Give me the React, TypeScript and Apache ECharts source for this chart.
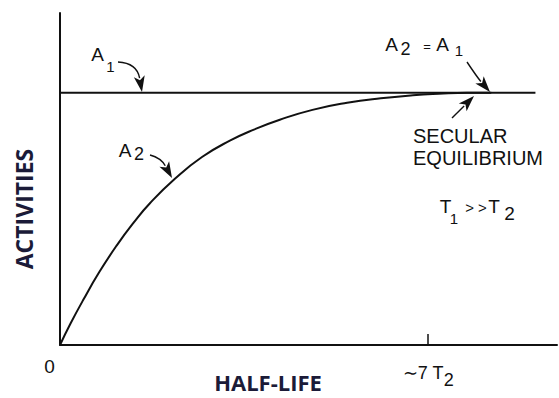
import React, { useEffect, useRef } from "react";
import * as echarts from "echarts";

// Time in units of the daughter half-life T2, activity in units of A1.
const halfLives = [0, 0.2, 0.44, 0.75, 1.08, 1.4, 1.71, 2.19, 2.7, 3.23, 3.7, 4.18, 4.8, 5.46, 6.1, 6.71, 7.2, 7.74, 8.2];
const daughterActivity = [0, 0.085, 0.178, 0.29, 0.395, 0.485, 0.562, 0.66, 0.745, 0.81, 0.855, 0.893, 0.932, 0.96, 0.978, 0.99, 0.996, 1.0, 1.0];
const parentSpan = [0, 9.04];
const parentActivity = [1, 1];
const xTicks = [0, 7];

const INK = "#111";
const SANS = "'Liberation Sans', Arial, sans-serif";

type Pt = [number, number];

// Curved leader with a filled wedge head pointing at `tip`.
function arrow(tail: Pt, ctrl: Pt, tip: Pt) {
  const dx = tip[0] - ctrl[0];
  const dy = tip[1] - ctrl[1];
  const len = Math.hypot(dx, dy);
  const ux = dx / len;
  const uy = dy / len;
  const headLen = 16;
  const half = 5.5;
  const bx = tip[0] - ux * headLen;
  const by = tip[1] - uy * headLen;
  return [
    {
      type: "bezierCurve",
      shape: { x1: tail[0], y1: tail[1], cpx1: ctrl[0], cpy1: ctrl[1], x2: bx + ux * 2, y2: by + uy * 2 },
      style: { stroke: INK, lineWidth: 1.4, fill: "none" },
    },
    {
      type: "polygon",
      shape: {
        points: [
          [tip[0], tip[1]],
          [bx - uy * half, by + ux * half],
          [bx + ux * 4, by + uy * 4],
          [bx + uy * half, by - ux * half],
        ],
      },
      style: { fill: INK },
    },
  ];
}

function txt(text: string, x: number, y: number, size: number, align = "center") {
  return {
    type: "text",
    x,
    y,
    style: {
      text,
      fill: INK,
      font: `${size}px ${SANS}`,
      align,
      verticalAlign: "middle",
    },
  };
}

export default function App() {
  const ref = useRef<HTMLDivElement>(null);

  useEffect(() => {
    if (!ref.current) return;
    const chart = echarts.init(ref.current, undefined, { renderer: "svg" });

    const curve = halfLives.map((t, i) => [t, daughterActivity[i]]);
    const flat = parentSpan.map((t, i) => [t, parentActivity[i]]);

    chart.setOption({
      animation: false,
      backgroundColor: "#fff",
      grid: { left: 60, top: 13, right: 2, bottom: 53 },
      xAxis: {
        type: "value",
        min: 0,
        max: 9.45,
        interval: 7,
        splitLine: { show: false },
        axisLine: { lineStyle: { color: INK, width: 2 } },
        axisTick: { show: true, length: 11, inside: true, lineStyle: { color: INK, width: 1.5 } },
        axisLabel: {
          margin: 12,
          showMaxLabel: false,
          formatter: (v: number) => (v === xTicks[0] ? "{z|0}" : v === xTicks[1] ? "{m|∼7 T}{s|2}" : ""),
          rich: {
            z: { fontSize: 19, fontFamily: SANS, color: INK, padding: [0, 21, 0, 0] },
            m: { fontSize: 18, fontFamily: SANS, color: INK },
            s: { fontSize: 18, fontFamily: SANS, color: INK, padding: [14, 0, 0, 0] },
          },
        },
      },
      yAxis: {
        type: "value",
        min: 0,
        max: 1.316,
        splitLine: { show: false },
        axisLine: { show: true, lineStyle: { color: INK, width: 2 } },
        axisTick: { show: false },
        axisLabel: { show: false },
      },
      series: [
        {
          name: "A1",
          type: "line",
          data: flat,
          showSymbol: false,
          lineStyle: { color: INK, width: 2 },
        },
        {
          name: "A2",
          type: "line",
          data: curve,
          smooth: true,
          showSymbol: false,
          lineStyle: { color: INK, width: 2 },
        },
      ],
      graphic: [
        // axis titles
        {
          type: "text",
          x: 24,
          y: 209,
          rotation: Math.PI / 2,
          style: {
            text: "ACTIVITIES",
            fill: "#1b1b38",
            font: "bold 23px 'Open Sans', sans-serif",
            align: "center",
            verticalAlign: "middle",
          },
        },
        {
          type: "text",
          x: 268,
          y: 382,
          style: {
            text: "HALF-LIFE",
            fill: "#1b1b38",
            font: "bold 22px 'Open Sans', sans-serif",
            align: "center",
            verticalAlign: "middle",
          },
        },
        // A1 label
        txt("A", 97.5, 54, 19),
        txt("1", 110.5, 66, 15),
        ...arrow([118, 62], [137, 63], [142, 92]),
        // A2 label
        txt("A", 125, 150, 19),
        txt("2", 139, 154, 18),
        ...arrow([150, 155], [161, 158], [172, 178]),
        // A2 = A1
        txt("A", 391.5, 44, 19),
        txt("2", 405.5, 49, 18),
        txt("=", 427, 46, 13),
        txt("A", 442.5, 44, 19),
        txt("1", 459, 50, 15),
        ...arrow([467, 62], [477, 77], [490, 92]),
        // secular equilibrium
        txt("SECULAR", 413, 136, 20, "left"),
        txt("EQUILIBRIUM", 413, 158, 20, "left"),
        ...arrow([452, 118], [462, 108], [474, 96]),
        // T1 >> T2
        txt("T", 445.5, 206, 19),
        txt("1", 454, 218, 15),
        txt("> >", 476, 207, 15),
        txt("T", 494, 206, 19),
        txt("2", 509.5, 213, 19),
      ],
    });

    return () => chart.dispose();
  }, []);

  return (
    <div
      ref={ref}
      style={{ position: "fixed", left: 0, top: 0, width: 559, height: 398, background: "#fff" }}
    />
  );
}
